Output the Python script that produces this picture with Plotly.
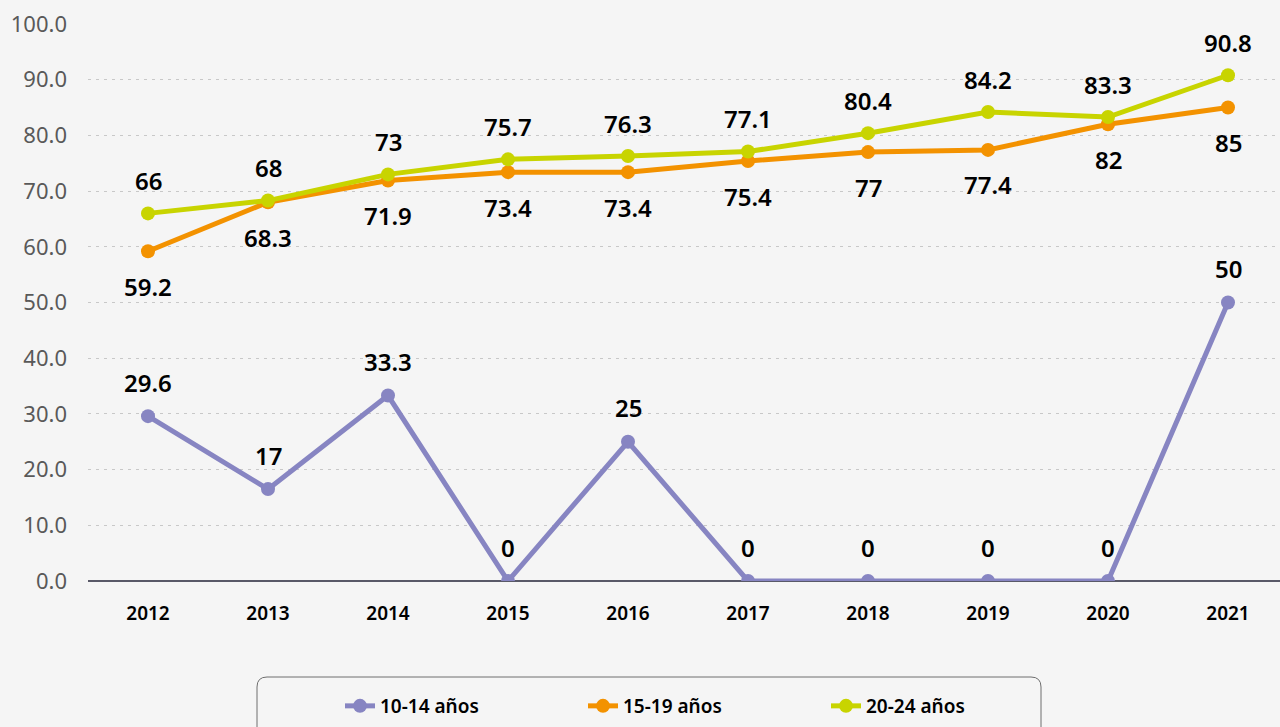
import plotly.graph_objects as go

years = ["2012", "2013", "2014", "2015", "2016", "2017", "2018", "2019", "2020", "2021"]
v_10_14 = [29.6, 16.5, 33.3, 0, 25, 0, 0, 0, 0, 50]
t_10_14 = ["29.6", "17", "33.3", "0", "25", "0", "0", "0", "0", "50"]
v_15_19 = [59.2, 68.0, 71.9, 73.4, 73.4, 75.4, 77, 77.4, 82, 85]
t_15_19 = ["59.2", "68.3", "71.9", "73.4", "73.4", "75.4", "77", "77.4", "82", "85"]
v_20_24 = [66, 68.3, 73, 75.7, 76.3, 77.1, 80.4, 84.2, 83.3, 90.8]
t_20_24 = ["66", "68", "73", "75.7", "76.3", "77.1", "80.4", "84.2", "83.3", "90.8"]
y_ticks = [0, 10, 20, 30, 40, 50, 60, 70, 80, 90, 100]

names = ["10-14 años", "15-19 años", "20-24 años"]
colors = ["#8785c2", "#f39200", "#c8d400"]
series = [v_10_14, v_15_19, v_20_24]
texts = [t_10_14, t_15_19, t_20_24]
shifts = [34, -35, 33]

W, H = 1280, 727
L, R, T, B = 88, 0, 24, 146
pw, ph = W - L - R, H - T - B

fig = go.Figure()
for nm, col, vals in zip(names, colors, series):
    fig.add_trace(go.Scatter(
        x=list(range(len(years))), y=vals, name=nm, mode="lines+markers",
        line=dict(color=col, width=5), marker=dict(color=col, size=14),
        hoverinfo="skip"))

ann = []
for vals, txt, sh in zip(series, texts, shifts):
    for i, (v, t) in enumerate(zip(vals, txt)):
        ann.append(dict(x=i, y=v, text=t, showarrow=False, yshift=sh,
                        font=dict(family="Noto Sans", size=24, color="#000000", weight=600)))


def px2paper(x, y):
    return (x - L) / pw, (H - B - y) / ph


x0, y0, x1, y1, r = 257, 677, 1041, 760, 10
ax, ay = px2paper(x0, y0)
bx, by = px2paper(x1, y1)
rx = r / pw
ry = r / ph
path = (f"M {ax+rx},{ay} L {bx-rx},{ay} Q {bx},{ay} {bx},{ay-ry} "
        f"L {bx},{by+ry} Q {bx},{by} {bx-rx},{by} L {ax+rx},{by} "
        f"Q {ax},{by} {ax},{by+ry} L {ax},{ay-ry} Q {ax},{ay} {ax+rx},{ay} Z")

lx, ly = px2paper(340, 706)

fig.update_layout(
    width=W, height=H,
    margin=dict(l=L, r=R, t=T, b=B),
    paper_bgcolor="#f5f5f5", plot_bgcolor="#f5f5f5",
    font=dict(family="Noto Sans"),
    showlegend=True,
    legend=dict(orientation="h", x=lx, y=ly, xanchor="left", yanchor="middle",
                bgcolor="rgba(0,0,0,0)", entrywidth=198, itemwidth=30,
                font=dict(family="Noto Sans", size=19, color="#000000", weight=600)),
    xaxis=dict(
        tickmode="array", tickvals=list(range(len(years))), ticktext=years,
        range=[-0.5, -0.5 + pw / 120.0], showgrid=False, zeroline=False,
        showline=False, ticks="", ticklabelstandoff=19,
        tickfont=dict(family="Noto Sans", size=19, color="#000000", weight=600)),
    yaxis=dict(
        range=[0, 100], tickmode="array", tickvals=y_ticks,
        ticktext=[f"{v:.1f}" for v in y_ticks],
        showgrid=True, gridcolor="#c8c8c8", griddash="3px,5px", gridwidth=1,
        zeroline=True, zerolinecolor="#595968", zerolinewidth=2,
        showline=False, ticks="", ticklabelstandoff=20,
        tickfont=dict(family="Noto Sans", size=22, color="#595959")),
    annotations=ann,
    shapes=[dict(type="path", path=path, xref="paper", yref="paper",
                 line=dict(color="#6e6e6e", width=1), fillcolor="rgba(0,0,0,0)",
                 layer="below")],
)

fig.write_html("out.html", config={"displayModeBar": False},
               post_script="document.body.style.margin='0';document.body.style.background='#f5f5f5';")
